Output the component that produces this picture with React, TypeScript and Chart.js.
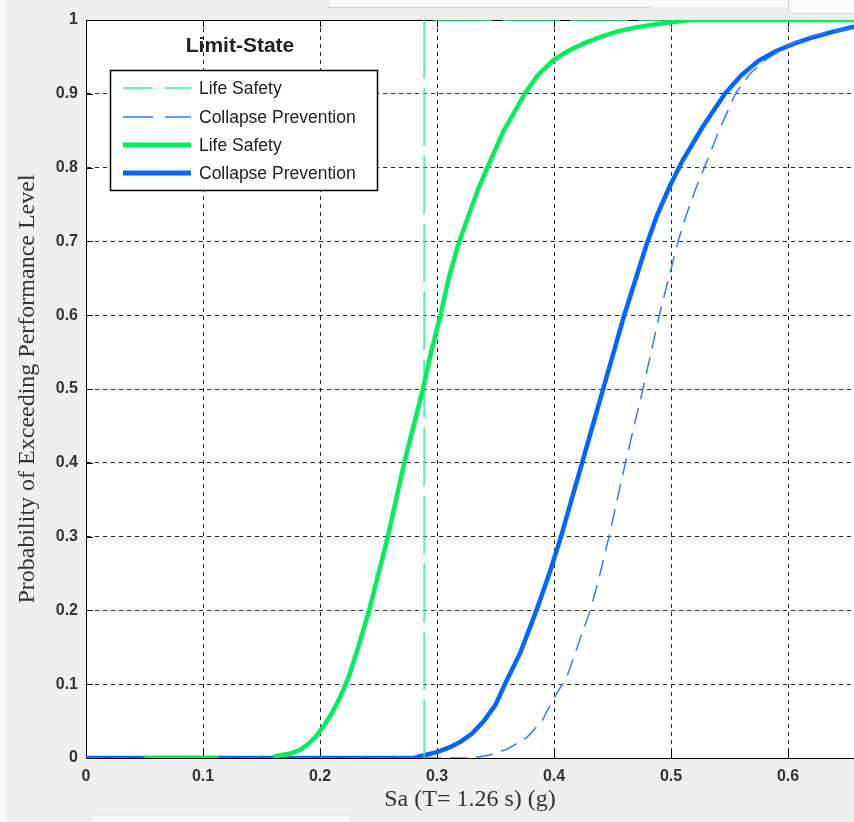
import React, { useEffect, useRef } from 'react';
import { Chart, registerables } from 'chart.js';

Chart.register(...registerables);

// ---- axis ranges & ticks ----
const X_MIN = 0;
const X_MAX = 0.6564;
const xTickValues = [0, 0.1, 0.2, 0.3, 0.4, 0.5, 0.6];
const yTickValues = [0, 0.1, 0.2, 0.3, 0.4, 0.5, 0.6, 0.7, 0.8, 0.9, 1];

// ---- Life Safety (dashed, empirical step) ----
const lsDashX = [0.289, 0.289, 0.6564];
const lsDashY = [0, 1, 1];

// ---- Collapse Prevention (dashed, empirical) ----
const cpDashX = [0, 0.33, 0.345, 0.36, 0.377, 0.39, 0.399, 0.411, 0.422, 0.431, 0.438, 0.447, 0.454, 0.461, 0.467, 0.476, 0.483, 0.49, 0.498, 0.506, 0.514, 0.522, 0.531, 0.541, 0.555, 0.568, 0.58, 0.6, 0.625, 0.6564];
const cpDashY = [0, 0, 0.004, 0.012, 0.028, 0.051, 0.079, 0.11, 0.16, 0.2, 0.241, 0.3, 0.35, 0.4, 0.44, 0.5, 0.55, 0.6, 0.65, 0.7, 0.74, 0.775, 0.81, 0.85, 0.9, 0.928, 0.945, 0.966, 0.98, 0.99];

// ---- Life Safety (solid, fitted) ; null = gap ----
const lsSolidX = [0.05, 0.113, 0.14, 0.16, 0.175, 0.183, 0.19, 0.197, 0.204, 0.211, 0.218, 0.225, 0.233, 0.242, 0.25, 0.258, 0.265, 0.272, 0.28, 0.288, 0.295, 0.303, 0.31, 0.318, 0.327, 0.335, 0.343, 0.35, 0.357, 0.366, 0.375, 0.386, 0.399, 0.412, 0.425, 0.44, 0.455, 0.47, 0.49, 0.516, 0.6564];
const lsSolidY = [0, 0, null, 0.002, 0.006, 0.011, 0.019, 0.03, 0.045, 0.063, 0.085, 0.112, 0.152, 0.2, 0.25, 0.3, 0.35, 0.4, 0.45, 0.5, 0.55, 0.6, 0.65, 0.695, 0.735, 0.77, 0.8, 0.825, 0.85, 0.875, 0.9, 0.925, 0.945, 0.958, 0.968, 0.977, 0.985, 0.99, 0.995, 1, 1];

// ---- Collapse Prevention (solid, fitted) ----
const cpSolidX = [0, 0.28, 0.29, 0.3, 0.31, 0.32, 0.33, 0.34, 0.35, 0.358, 0.371, 0.385, 0.396, 0.406, 0.415, 0.424, 0.433, 0.442, 0.451, 0.46, 0.47, 0.479, 0.488, 0.499, 0.51, 0.527, 0.546, 0.56, 0.575, 0.59, 0.605, 0.62, 0.638, 0.6564];
const cpSolidY = [0, 0, 0.004, 0.008, 0.014, 0.022, 0.033, 0.05, 0.072, 0.1, 0.142, 0.2, 0.25, 0.3, 0.35, 0.4, 0.45, 0.5, 0.55, 0.6, 0.65, 0.695, 0.735, 0.775, 0.81, 0.855, 0.9, 0.925, 0.945, 0.958, 0.968, 0.976, 0.984, 0.991];

// ---- legend ----
const legendTitle = 'Limit-State';
const legendLabels = ['Life Safety', 'Collapse Prevention', 'Life Safety', 'Collapse Prevention'];
const legendColors = ['#3cf08c', '#2a7fff', '#00f05a', '#0066ff'];
const legendDashed = [true, true, false, false];

const xTitle = 'Sa (T= 1.26 s) (g)';
const yTitle = 'Probability of Exceeding Performance Level';

const toPoints = (xs: number[], ys: (number | null)[]) => xs.map((x, i) => ({ x, y: ys[i] }));

const framePlugin = {
  id: 'matlabFrame',
  beforeDraw(chart: any) {
    const { ctx, chartArea: a } = chart;
    ctx.save();
    ctx.fillStyle = '#ffffff';
    ctx.fillRect(a.left, a.top, a.right - a.left, a.bottom - a.top);
    ctx.restore();
  },
  beforeDatasetsDraw(chart: any) {
    const { ctx, chartArea: a, scales } = chart;
    ctx.save();
    ctx.strokeStyle = '#000';
    ctx.lineWidth = 1;
    ctx.setLineDash([]);
    ctx.beginPath();
    ctx.moveTo(a.left, a.top + 0.5);
    ctx.lineTo(a.right, a.top + 0.5);
    for (const t of xTickValues) {
      const px = Math.round(scales.x.getPixelForValue(t)) + 0.5;
      ctx.moveTo(px, a.bottom);
      ctx.lineTo(px, a.bottom - 7);
      ctx.moveTo(px, a.top);
      ctx.lineTo(px, a.top + 7);
    }
    for (const t of yTickValues) {
      const py = Math.round(scales.y.getPixelForValue(t)) + 0.5;
      ctx.moveTo(a.left, py);
      ctx.lineTo(a.left + 7, py);
    }
    ctx.stroke();
    ctx.restore();
  },
  afterDraw(chart: any) {
    const { ctx, chartArea: a } = chart;
    const bx = a.left + 24;
    const by = a.top + 50;
    const bw = 268;
    const bh = 121;
    ctx.save();
    ctx.fillStyle = '#222';
    ctx.font = 'bold 21px "Liberation Sans", Arial, sans-serif';
    ctx.textAlign = 'center';
    ctx.textBaseline = 'middle';
    ctx.fillText(legendTitle, a.left + 154, a.top + 26);

    ctx.fillStyle = '#fff';
    ctx.fillRect(bx, by, bw, bh);
    ctx.strokeStyle = '#000';
    ctx.lineWidth = 1.5;
    ctx.strokeRect(bx + 0.5, by + 0.5, bw - 1, bh - 1);

    const rowY = [18, 47, 75, 103];
    ctx.font = '17.5px "Liberation Sans", Arial, sans-serif';
    ctx.textAlign = 'left';
    legendLabels.forEach((lab, i) => {
      const y = by + rowY[i];
      ctx.strokeStyle = legendColors[i];
      if (legendDashed[i]) {
        ctx.lineWidth = 1.5;
        ctx.setLineDash([30, 12]);
      } else {
        ctx.lineWidth = 5;
        ctx.setLineDash([]);
      }
      ctx.beginPath();
      ctx.moveTo(bx + 13, y);
      ctx.lineTo(bx + 81, y);
      ctx.stroke();
      ctx.setLineDash([]);
      ctx.fillStyle = '#222';
      ctx.fillText(lab, bx + 89, y + 1);
    });
    ctx.restore();
  },
};

export default function App() {
  const canvasRef = useRef<HTMLCanvasElement | null>(null);

  useEffect(() => {
    document.body.style.margin = '0';
    const canvas = canvasRef.current;
    if (!canvas) return;
    const chart = new Chart(canvas, {
      type: 'line',
      data: {
        datasets: [
          {
            label: 'Life Safety (fit)',
            data: toPoints(lsSolidX, lsSolidY),
            borderColor: legendColors[2],
            borderWidth: 4.5,
            pointRadius: 0,
            spanGaps: false,
            order: 0,
          },
          {
            label: 'Life Safety (data)',
            data: toPoints(lsDashX, lsDashY),
            borderColor: legendColors[0],
            borderWidth: 1.5,
            borderDash: [58, 10],
            pointRadius: 0,
            order: 1,
          },
          {
            label: 'Collapse Prevention (data)',
            data: toPoints(cpDashX, cpDashY),
            borderColor: legendColors[1],
            borderWidth: 1.5,
            borderDash: [17, 9],
            pointRadius: 0,
            order: 2,
          },
          {
            label: 'Collapse Prevention (fit)',
            data: toPoints(cpSolidX, cpSolidY),
            borderColor: legendColors[3],
            borderWidth: 4.5,
            pointRadius: 0,
            order: 3,
          },
        ],
      },
      options: {
        animation: false,
        responsive: false,
        devicePixelRatio: 1,
        layout: { padding: { top: 20, right: 0, left: 0, bottom: 0 } },
        plugins: { legend: { display: false }, tooltip: { enabled: false } },
        elements: { line: { tension: 0 } },
        scales: {
          x: {
            type: 'linear',
            min: X_MIN,
            max: X_MAX,
            afterFit: (s: any) => { s.height = 64; },
            afterBuildTicks: (s: any) => { s.ticks = xTickValues.map((v) => ({ value: v })); },
            ticks: {
              includeBounds: false,
              padding: 9,
              color: '#333',
              font: { family: '"Liberation Sans", Arial, sans-serif', size: 16, weight: 'bold' },
              callback: (v: any) => String(Math.round(Number(v) * 10) / 10),
              maxRotation: 0,
              autoSkip: false,
            },
            grid: { color: '#262626', lineWidth: 1, drawTicks: false },
            border: { display: true, color: '#000', width: 1, dash: [4, 4] },
            title: {
              display: true,
              text: xTitle,
              color: '#333',
              font: { family: '"Liberation Serif", "Times New Roman", serif', size: 24 },
              padding: { top: 0, bottom: 7.5 },
            },
          },
          y: {
            type: 'linear',
            min: 0,
            max: 1,
            afterFit: (s: any) => { s.width = 86; },
            afterBuildTicks: (s: any) => { s.ticks = yTickValues.map((v) => ({ value: v })); },
            ticks: {
              includeBounds: false,
              padding: 8,
              color: '#333',
              font: { family: '"Liberation Sans", Arial, sans-serif', size: 16, weight: 'bold' },
              callback: (v: any) => String(Math.round(Number(v) * 10) / 10),
              autoSkip: false,
            },
            grid: { color: '#262626', lineWidth: 1, drawTicks: false },
            border: { display: true, color: '#000', width: 1, dash: [4, 4] },
            title: {
              display: true,
              text: yTitle,
              color: '#333',
              font: { family: '"Liberation Serif", "Times New Roman", serif', size: 24 },
              padding: { top: 13.5, bottom: 0 },
            },
          },
        },
      },
      plugins: [framePlugin],
    } as any);
    return () => chart.destroy();
  }, []);

  return (
    <div style={{ position: 'fixed', left: 0, top: 0, width: 854, height: 822, background: '#efefef', overflow: 'hidden' }}>
      <div style={{ position: 'absolute', left: 0, top: 0, width: 6, height: 822, background: '#f7f7f7' }} />
      <div style={{ position: 'absolute', left: 330, top: 0, width: 524, height: 7, background: '#fbfbfb' }} />
      <div style={{ position: 'absolute', left: 327, top: 7, width: 323, height: 1, background: '#d9d9d9' }} />
      <div style={{ position: 'absolute', left: 788, top: -10, width: 90, height: 22, background: '#fbfbfb', border: '1px solid #d4d4d4', borderRadius: 5 }} />
      <div style={{ position: 'absolute', left: 91, top: 815, width: 259, height: 20, background: '#f8f8f8', border: '1px solid #e6e6e6', borderRadius: 5 }} />
      <canvas ref={canvasRef} width={854} height={822} style={{ position: 'absolute', left: 0, top: 0, width: 854, height: 822 }} />
    </div>
  );
}
